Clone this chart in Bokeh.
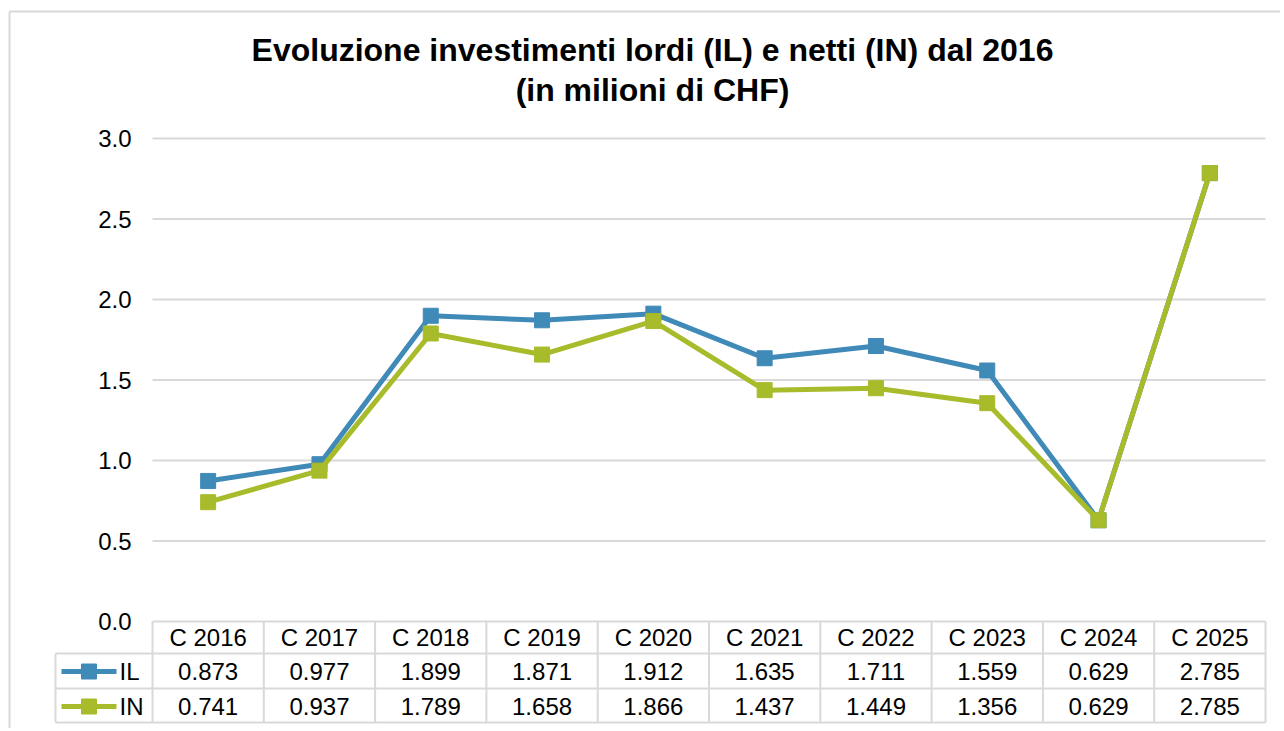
from bokeh.plotting import figure
from bokeh.embed import file_html
from bokeh.resources import INLINE
from bokeh.core.properties import value

# ---------------- data ----------------
categories = ["C 2016", "C 2017", "C 2018", "C 2019", "C 2020",
              "C 2021", "C 2022", "C 2023", "C 2024", "C 2025"]
il_values = [0.873, 0.977, 1.899, 1.871, 1.912, 1.635, 1.711, 1.559, 0.629, 2.785]
in_values = [0.741, 0.937, 1.789, 1.658, 1.866, 1.437, 1.449, 1.356, 0.629, 2.785]
series_names = ["IL", "IN"]
y_ticks = [0.0, 0.5, 1.0, 1.5, 2.0, 2.5, 3.0]
title_lines = ["Evoluzione investimenti lordi (IL) e netti (IN) dal 2016",
               "(in milioni di CHF)"]

# ---------------- styles ----------------
BLUE = "#408ab8"
GREEN = "#a8bb2a"
GRID = "#d9d9d9"
FONT = "Liberation Sans"
W, H = 1280, 728

# layout helpers (pixel -> data, canvas coords)
X0, CW = 152.0, 111.3          # left of category area, category width
Y0, YS = 621.0, 161.0          # y pixel of value 0, pixels per unit


def dx(px):
    return (px - X0) / CW


def dy(py):
    return (Y0 - py) / YS


p = figure(width=W, height=H, output_backend="svg", toolbar_location=None,
           x_range=(dx(0), dx(W)), y_range=(dy(H), dy(0)),
           x_axis_type=None, y_axis_type=None, min_border=0)
p.outline_line_color = None
p.background_fill_color = "white"
p.border_fill_color = "white"
p.xgrid.visible = False
p.ygrid.visible = False

n = len(categories)
xs = [i + 0.5 for i in range(n)]

# chart border (left & top)
p.segment(x0=[dx(9), dx(9)], y0=[dy(11), dy(11)], x1=[dx(9), dx(1300)], y1=[dy(760), dy(11)],
          line_color=GRID, line_width=2)

# gridlines
p.segment(x0=[0] * len(y_ticks), x1=[n] * len(y_ticks), y0=y_ticks, y1=y_ticks,
          line_color=GRID, line_width=2)

# y tick labels
p.text(x=[dx(131)] * len(y_ticks), y=y_ticks, text=[f"{t:.1f}" for t in y_ticks],
       text_align="right", text_baseline="middle", text_font=value(FONT),
       text_font_size="24px", text_color="#000000")

# title
p.text(x=[dx(652), dx(652)], y=[dy(49), dy(89)], text=title_lines,
       text_align="center", text_baseline="middle", text_font=value(FONT),
       text_font_size="32px", text_font_style="bold", text_color="#000000")

# series
p.line(xs, il_values, line_color=BLUE, line_width=5)
p.scatter(xs, il_values, marker="square", size=15, fill_color=BLUE, line_color=BLUE)
p.line(xs, in_values, line_color=GREEN, line_width=5)
p.scatter(xs, in_values, marker="square", size=15, fill_color=GREEN, line_color=GREEN)

# ---------------- data table ----------------
row_hdr, row_il, row_in = dy(637), dy(671), dy(706)
line_hdr, line_mid, line_bot = dy(653), dy(688), dy(722)
leg_left = dx(55)

# horizontal table lines
p.segment(x0=[leg_left, leg_left, leg_left], x1=[n, n, n],
          y0=[line_hdr, line_mid, line_bot], y1=[line_hdr, line_mid, line_bot],
          line_color=GRID, line_width=2)
# vertical table lines
p.segment(x0=list(range(n + 1)), x1=list(range(n + 1)),
          y0=[0] * (n + 1), y1=[line_bot] * (n + 1), line_color=GRID, line_width=2)
p.segment(x0=[leg_left], x1=[leg_left], y0=[line_hdr], y1=[line_bot],
          line_color=GRID, line_width=2)

txt = dict(text_align="center", text_baseline="middle", text_font=value(FONT),
           text_font_size="24px", text_color="#000000")
p.text(x=xs, y=[row_hdr] * n, text=categories, **txt)
p.text(x=xs, y=[row_il] * n, text=[f"{v:.3f}" for v in il_values], **txt)
p.text(x=xs, y=[row_in] * n, text=[f"{v:.3f}" for v in in_values], **txt)

# legend keys in the table
for name, color, yy in [(series_names[0], BLUE, row_il), (series_names[1], GREEN, row_in)]:
    p.line([dx(61), dx(116)], [yy, yy], line_color=color, line_width=5)
    p.scatter([dx(88.5)], [yy], marker="square", size=15, fill_color=color, line_color=color)
    p.text(x=[dx(119)], y=[yy], text=[name], text_align="left", text_baseline="middle",
           text_font=value(FONT), text_font_size="24px", text_color="#000000")

open("out.html", "w").write(file_html(p, INLINE))
